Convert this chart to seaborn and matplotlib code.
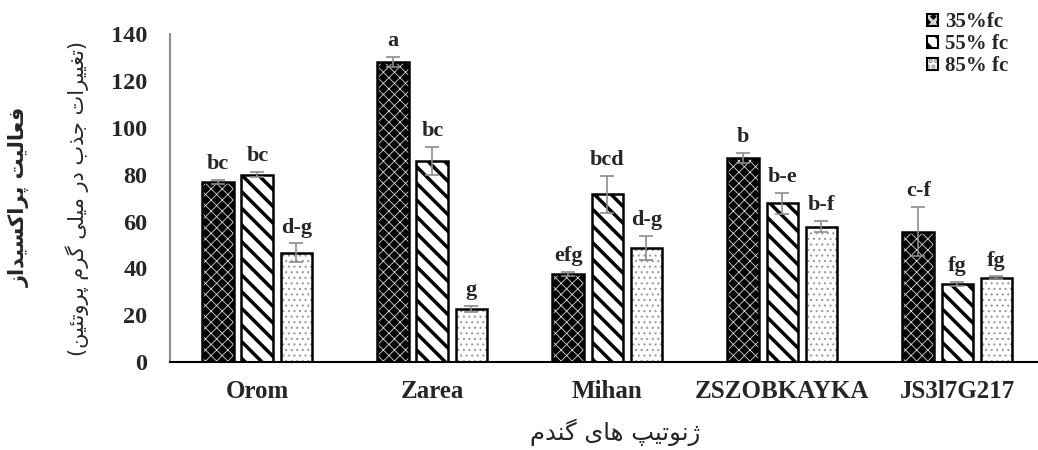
import pandas as pd
import matplotlib
matplotlib.use("Agg")
import matplotlib.pyplot as plt
from matplotlib.patches import Patch, Rectangle
import seaborn as sns

genotypes = ["Orom", "Zarea", "Mihan", "ZSZOBKAYKA", "JS3l7G217"]
levels = ["35%fc", "55% fc", "85% fc"]
fc35 = [77.0, 128.2, 37.8, 87.0, 55.7]
fc55 = [79.9, 85.8, 71.6, 67.8, 33.3]
fc85 = [46.7, 22.7, 48.6, 57.8, 36.1]
err35 = [0.8, 2.1, 0.9, 2.1, 10.4]
err55 = [1.1, 6.0, 7.8, 4.5, 0.9]
err85 = [4.0, 1.4, 5.1, 2.3, 0.5]
let35 = ["bc", "a", "efg", "b", "c-f"]
let55 = ["bc", "bc", "bcd", "b-e", "fg"]
let85 = ["d-g", "g", "d-g", "b-f", "fg"]

ylab1 = "فعالیت پراکسیداز"
ylab2 = "(تغییرات جذب در میلی گرم پروتئین)"
xlab = "ژنوتیپ های گندم"

# persian shaping by hand (matplotlib has no bidi / joining)
FORMS = {
    "ا": ("\uFE8D", "\uFE8E", None, None),
    "ب": ("\uFE8F", "\uFE90", "\uFE91", "\uFE92"),
    "پ": ("\uFB56", "\uFB57", "\uFB58", "\uFB59"),
    "ت": ("\uFE95", "\uFE96", "\uFE97", "\uFE98"),
    "ج": ("\uFE9D", "\uFE9E", "\uFE9F", "\uFEA0"),
    "د": ("\uFEA9", "\uFEAA", None, None),
    "ذ": ("\uFEAB", "\uFEAC", None, None),
    "ر": ("\uFEAD", "\uFEAE", None, None),
    "ز": ("\uFEAF", "\uFEB0", None, None),
    "ژ": ("\uFB8A", "\uFB8B", None, None),
    "س": ("\uFEB1", "\uFEB2", "\uFEB3", "\uFEB4"),
    "ع": ("\uFEC9", "\uFECA", "\uFECB", "\uFECC"),
    "غ": ("\uFECD", "\uFECE", "\uFECF", "\uFED0"),
    "ف": ("\uFED1", "\uFED2", "\uFED3", "\uFED4"),
    "\u06A9": ("\uFB8E", "\uFB8F", "\uFB90", "\uFB91"),
    "\u0643": ("\uFB8E", "\uFB8F", "\uFB90", "\uFB91"),
    "گ": ("\uFB92", "\uFB93", "\uFB94", "\uFB95"),
    "ل": ("\uFEDD", "\uFEDE", "\uFEDF", "\uFEE0"),
    "م": ("\uFEE1", "\uFEE2", "\uFEE3", "\uFEE4"),
    "ن": ("\uFEE5", "\uFEE6", "\uFEE7", "\uFEE8"),
    "ه": ("\uFEE9", "\uFEEA", "\uFEEB", "\uFEEC"),
    "و": ("\uFEED", "\uFEEE", None, None),
    "\u06CC": ("\uFBFC", "\uFBFD", "\uFBFE", "\uFBFF"),
    "\u064A": ("\uFBFC", "\uFBFD", "\uFBFE", "\uFBFF"),
    "ئ": ("\uFE89", "\uFE8A", "\uFE8B", "\uFE8C"),
}


def shape_fa(text):
    out = []
    for i, ch in enumerate(text):
        if ch not in FORMS:
            out.append(ch)
            continue
        prev = text[i - 1] if i > 0 else ""
        nxt = text[i + 1] if i + 1 < len(text) else ""
        f = FORMS[ch]
        jp = prev in FORMS and FORMS[prev][2] is not None
        jn = f[2] is not None and nxt in FORMS
        if jp and jn:
            out.append(f[3])
        elif jp:
            out.append(f[1])
        elif jn:
            out.append(f[2])
        else:
            out.append(f[0])
    vis = "".join(out)[::-1]
    return vis.translate(str.maketrans("()", ")("))


sns.set_style("white")
plt.rcParams["font.family"] = ["Liberation Serif", "DejaVu Sans"]
plt.rcParams["hatch.linewidth"] = 2.2

df = pd.DataFrame({
    "genotype": genotypes * 3,
    "level": [levels[0]] * 5 + [levels[1]] * 5 + [levels[2]] * 5,
    "value": fc35 + fc55 + fc85,
})
errs = [err35, err55, err85]
lets = [let35, let55, let85]

fig = plt.figure(figsize=(10.38, 4.5), dpi=100)
ax = fig.add_axes([0.1636, 0.195, 0.843, 0.7295])

sns.barplot(data=df, x="genotype", y="value", hue="level", order=genotypes,
            hue_order=levels, width=0.67, gap=0.19, errorbar=None,
            legend=False, ax=ax)

styles = [
    dict(face="black", hatch="xxx", hcolor="#d8d8d8", hlw=0.6),
    dict(face="white", hatch="\\\\", hcolor="black", hlw=2.5),
    dict(face="white", hatch="...", hcolor="#9a9a9a", hlw=0.8),
]

bar_groups = list(ax.containers)
for k, cont in enumerate(bar_groups):
    st = styles[k]
    xs, hs = [], []
    for bar in cont:
        bar.set_facecolor(st["face"])
        bar.set_edgecolor(st["hcolor"])
        bar.set_hatch(st["hatch"])
        bar.set_linewidth(0)
        if hasattr(bar, "set_hatch_linewidth"):
            bar.set_hatch_linewidth(st["hlw"])
        ax.add_patch(Rectangle(bar.get_xy(), bar.get_width(), bar.get_height(),
                               fill=False, edgecolor="black", lw=1.8, zorder=3))
        xs.append(bar.get_x() + bar.get_width() / 2)
        hs.append(bar.get_height())
    ax.errorbar(xs, hs, yerr=errs[k], fmt="none", ecolor="#8c8c8c",
                elinewidth=1.2, capsize=5, capthick=1.2, zorder=4)
    for x, h, e, t in zip(xs, hs, errs[k], lets[k]):
        ax.text(x, h + e + 2.5, t, ha="center", va="bottom",
                fontsize=16, fontweight="bold")

ax.set_xlim(-0.5, 4.5)
ax.set_ylim(0, 140)
ax.set_yticks(range(0, 141, 20))
ax.set_xticks(range(5))
ax.set_xticks([i - 0.5 for i in range(6)], minor=True)
ax.set_xticklabels(genotypes, fontsize=18, fontweight="bold")
for lab in ax.get_yticklabels():
    lab.set_fontsize(17.5)
    lab.set_fontweight("bold")
ax.tick_params(axis="x", which="major", length=0, pad=13)
ax.tick_params(axis="x", which="minor", direction="inout", length=11,
               color="#8c8c8c", width=1.2)
ax.tick_params(axis="y", direction="inout", length=12, color="#555555",
               width=1.2, pad=10)
ax.set_xlabel("")
ax.set_ylabel("")
sns.despine(ax=ax)
ax.spines["left"].set_color("#8c8c8c")
ax.spines["left"].set_linewidth(1.5)
ax.spines["bottom"].set_color("black")
ax.spines["bottom"].set_linewidth(1.5)

fig.text(0.019, 0.562, shape_fa(ylab1), rotation=90, ha="center", va="center",
         fontsize=15, fontweight="bold", family=["DejaVu Sans"])
fig.text(0.074, 0.56, shape_fa(ylab2), rotation=90, ha="center", va="center",
         fontsize=15, family=["DejaVu Sans"])
fig.text(0.593, 0.04, shape_fa(xlab), ha="center", va="center",
         fontsize=17.5, family=["DejaVu Sans"])

handles = []
for st in styles:
    fillp = Patch(facecolor=st["face"], edgecolor=st["hcolor"],
                  hatch=st["hatch"], lw=0)
    edgep = Patch(fill=False, edgecolor="black", lw=1.5)
    handles.append((fillp, edgep))
fig.legend(handles, levels, loc="upper left", bbox_to_anchor=(0.893, 0.973),
           frameon=False, handlelength=0.55, handleheight=0.55,
           handletextpad=0.3, labelspacing=0.1, borderpad=0, borderaxespad=0,
           prop=dict(size=15, weight="bold"))

fig.savefig("out.png", dpi=100)
